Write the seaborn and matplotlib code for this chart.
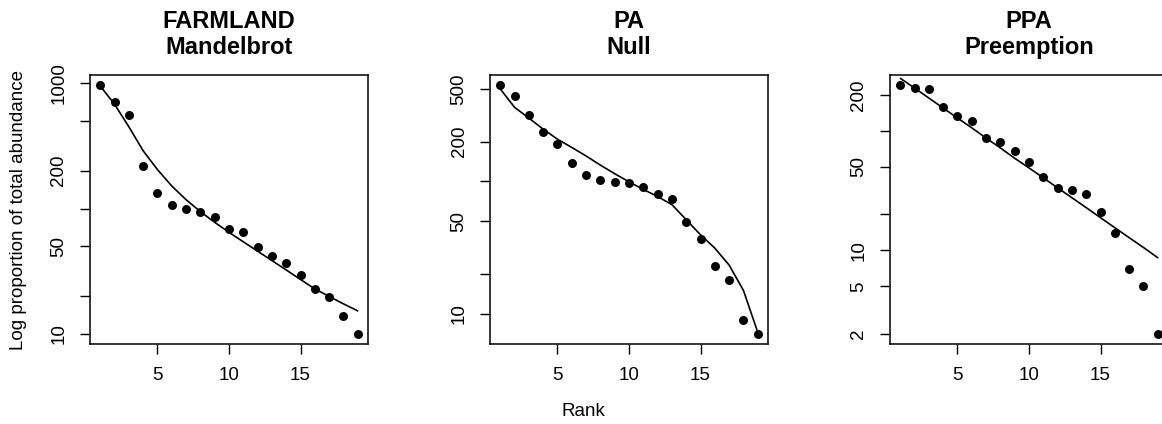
import numpy as np
import pandas as pd
import matplotlib
matplotlib.use("Agg")
import matplotlib.pyplot as plt
import seaborn as sns

rank = list(range(1, 20))

# FARMLAND - Mandelbrot
farm_obs = [964, 700, 560, 218, 134, 107, 100, 94, 86, 68.5, 64.8, 49.7, 41.8, 36.7, 29.8, 22.7, 19.8, 13.9, 10]
farm_fit = [944, 676, 447, 288, 204, 151, 117.5, 94.4, 77.6, 64.6, 54.3, 45.7, 38.5, 32.4, 27.2, 22.9, 19.95, 17.4, 15.3]

# PA - Null
pa_obs = [538, 444, 320, 238, 192, 137, 112, 103.5, 98.8, 96.6, 91.2, 80, 73.8, 49, 37, 22.9, 17.9, 9.0, 7.0]
pa_fit = [502, 364, 302, 249, 209, 181, 156, 133, 114.5, 99.5, 87, 77, 66.8, 51.4, 39.5, 31.3, 23.3, 15, 7.24]

# PPA - Preemption
ppa_obs = [242, 227, 224, 157, 133, 120, 88, 81, 68, 54.8, 40.8, 33, 31.9, 29.9, 21, 14, 7.0, 5.0, 2.0]
ppa_fit = [275, 228, 188, 155, 128, 106, 87, 72, 59, 49, 40.5, 33.4, 27.6, 22.8, 18.8, 15.5, 12.8, 10.6, 8.7]

titles = ["FARMLAND\nMandelbrot", "PA\nNull", "PPA\nPreemption"]
yticks = [[10, 20, 50, 100, 200, 500, 1000],
          [10, 20, 50, 100, 200, 500],
          [2, 5, 10, 20, 50, 100, 200]]
ylabels = [["10", "", "50", "", "200", "", "1000"],
           ["10", "", "50", "", "200", "500"],
           ["2", "5", "10", "", "50", "", "200"]]
xticks = [5, 10, 15]

sns.set_style("white")
plt.rcParams["font.family"] = ["Liberation Sans", "DejaVu Sans"]
plt.rcParams["text.color"] = "black"
plt.rcParams["xtick.color"] = "black"
plt.rcParams["ytick.color"] = "black"
plt.rcParams["axes.labelcolor"] = "black"

fig = plt.figure(figsize=(11.62, 4.24), dpi=100)
W, H = 1162, 424
lefts = [90, 490, 890]

panels = [(farm_obs, farm_fit), (pa_obs, pa_fit), (ppa_obs, ppa_fit)]
for i, (obs, fit) in enumerate(panels):
    ax = fig.add_axes([lefts[i] / W, (H - 344) / H, 278 / W, 269 / H])
    df = pd.DataFrame({"rank": rank, "obs": obs, "fit": fit})
    sns.lineplot(data=df, x="rank", y="fit", color="black", linewidth=1.2, ax=ax)
    sns.scatterplot(data=df, x="rank", y="obs", color="black", s=42, edgecolor="black",
                    linewidth=0, ax=ax, zorder=3)
    ax.set_yscale("log")
    # R-style 4% extension from the observed points
    lo, hi = np.log10(min(obs)), np.log10(max(obs))
    r = hi - lo
    ax.set_ylim(10 ** (lo - 0.04 * r), 10 ** (hi + 0.04 * r))
    xr = max(rank) - min(rank)
    ax.set_xlim(min(rank) - 0.04 * xr, max(rank) + 0.04 * xr)
    ax.set_yticks(yticks[i])
    ax.set_yticklabels(ylabels[i], rotation=90, va="center")
    ax.yaxis.set_minor_locator(matplotlib.ticker.NullLocator())
    ax.set_xticks(xticks)
    ax.set_xticklabels([str(t) for t in xticks])
    ax.tick_params(axis="both", which="major", direction="out", length=7.2, width=1,
                   color="black", labelcolor="black", labelsize=13.5, pad=9,
                   bottom=True, left=True)
    ax.set_xlabel("")
    ax.set_ylabel("")
    for sp in ax.spines.values():
        sp.set_color("black")
        sp.set_linewidth(1.1)
    ax.set_title(titles[i], fontsize=17, fontweight="bold", pad=15, linespacing=1.15,
                 color="black")

fig.text(19 / W, (H - 210) / H, "Log proportion of total abundance", rotation=90,
         ha="center", va="center", fontsize=13.5, color="black")
fig.text(583 / W, (H - 411) / H, "Rank", ha="center", va="center", fontsize=13.5,
         color="black")

fig.savefig("out.png", dpi=100)
